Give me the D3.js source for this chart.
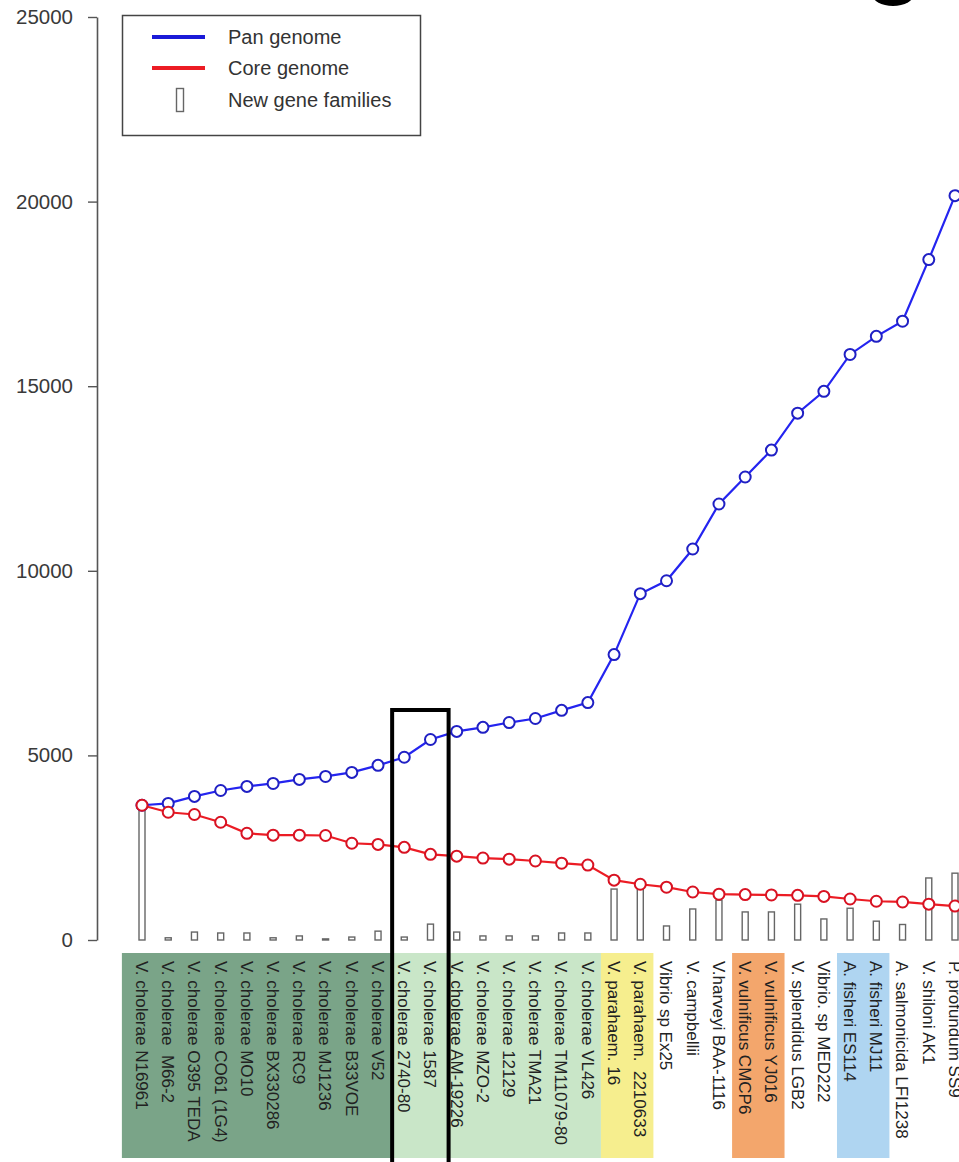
<!DOCTYPE html>
<html>
<head>
<meta charset="utf-8">
<script src="https://cdn.jsdelivr.net/npm/d3@7"></script>
<style>
  body { margin: 0; background: #fff; }
  svg { display: block; }
  text { font-family: "Liberation Sans", Arial, Helvetica, sans-serif; }
</style>
</head>
<body>
<svg id="chart" width="959" height="1162"></svg>
<script>
// Genomes in the order they are added to the pan/core genome
const categories = [
  "V. cholerae N16961", "V. cholerae  M66-2", "V. cholerae O395 TEDA", "V. cholerae CO61 (1G4)",
  "V. cholerae MO10", "V. cholerae BX330286", "V. cholerae RC9", "V. cholerae MJ1236",
  "V. cholerae B33VOE", "V. cholerae V52", "V. cholerae 2740-80", "V. cholerae 1587",
  "V. cholerae AM-19226", "V. cholerae MZO-2", "V. cholerae 12129", "V. cholerae TMA21",
  "V. cholerae TM11079-80", "V. cholerae VL426", "V. parahaem. 16", "V. parahaem.  2210633",
  "Vibrio sp Ex25", "V. campbellii", "V.harveyi BAA-1116", "V. vulnificus CMCP6",
  "V. vulnificus YJ016", "V. splendidus LGB2", "Vibrio. sp MED222", "A. fisheri ES114",
  "A. fisheri MJ11", "A. salmonicida LFI1238", "V. shiloni AK1", "P. profundum SS9"
];

// Cumulative pan genome size (gene families)
const panGenome = [
  3650, 3700, 3890, 4050, 4160, 4240, 4350, 4430, 4540, 4730, 4950, 5430,
  5650, 5760, 5890, 6000, 6220, 6430, 7730, 9380, 9730, 10590, 11810, 12540,
  13270, 14270, 14860, 15860, 16350, 16760, 18430, 20160
];

// Core genome size (gene families shared by all genomes so far)
const coreGenome = [
  3650, 3460, 3400, 3190, 2890, 2840, 2840, 2830, 2620, 2590, 2510, 2320,
  2270, 2220, 2190, 2140, 2080, 2030, 1620, 1510, 1430, 1300, 1240, 1230,
  1220, 1210, 1180, 1110, 1050, 1030, 970, 920
];

// New gene families contributed by each added genome
const newFamilies = [
  3650, 60, 215, 190, 190, 60, 110, 30, 80, 240, 80, 430,
  215, 110, 110, 110, 190, 190, 1380, 1450, 380, 840, 1080, 760,
  760, 970, 570, 860, 510, 420, 1680, 1810
];

const yTicks = [0, 5000, 10000, 15000, 20000, 25000];

// Species groups shaded behind the genome names (first and last member)
const cholerae1 = ["V. cholerae N16961", "V. cholerae V52"];
const cholerae2 = ["V. cholerae 2740-80", "V. cholerae VL426"];
const parahaem = ["V. parahaem. 16", "V. parahaem.  2210633"];
const vulnificus = ["V. vulnificus CMCP6", "V. vulnificus YJ016"];
const fisheri = ["A. fisheri ES114", "A. fisheri MJ11"];
const highlighted = ["V. cholerae 2740-80", "V. cholerae 1587"];

const legendLabels = ["Pan genome", "Core genome", "New gene families"];

// ---- drawing ----
const svg = d3.select("#chart");
const x = d3.scalePoint().domain(categories).range([142, 955]);
const y = d3.scaleLinear().domain([0, 25000]).range([940, 17]);
const step = x.step();

const bandTop = 953, bandBottom = 1158;
const groupSpans = [
  { span: cholerae1, fill: "#7aa488", padLeft: 7 },
  { span: cholerae2, fill: "#c9e6c8", padLeft: 0 },
  { span: parahaem, fill: "#f6ee8e", padLeft: 0 },
  { span: vulnificus, fill: "#f3a66c", padLeft: 0 },
  { span: fisheri, fill: "#afd5f1", padLeft: 0 }
];

svg.append("g").selectAll("rect").data(groupSpans).join("rect")
  .attr("x", d => x(d.span[0]) - step / 2 - d.padLeft)
  .attr("y", bandTop)
  .attr("width", d => x(d.span[1]) - x(d.span[0]) + step + d.padLeft)
  .attr("height", bandBottom - bandTop)
  .attr("fill", d => d.fill);

// genome names, reading downwards
svg.append("g").selectAll("text").data(categories).join("text")
  .attr("transform", d => `translate(${x(d)},961) rotate(90)`)
  .attr("dy", "0.36em")
  .attr("font-size", 17)
  .attr("fill", "#222")
  .attr("xml:space", "preserve")
  .text(d => d);

// y axis
const yAxis = svg.append("g")
  .attr("transform", "translate(97,0)")
  .call(d3.axisLeft(y).tickValues(yTicks).tickFormat(d3.format("d"))
    .tickSize(9).tickPadding(15).tickSizeOuter(0));
yAxis.select(".domain").attr("stroke", "#555").attr("stroke-width", 1.6);
yAxis.selectAll(".tick line").attr("stroke", "#555").attr("stroke-width", 1.4);
yAxis.selectAll(".tick text").attr("font-size", 20.5).attr("fill", "#3a3a3a")
  .attr("font-family", "\"Liberation Sans\", Arial, sans-serif");

// new gene family bars
svg.append("g").selectAll("rect").data(newFamilies).join("rect")
  .attr("x", (d, i) => x(categories[i]) - 3)
  .attr("y", d => y(d))
  .attr("width", 6)
  .attr("height", d => y(0) - y(d))
  .attr("fill", "#fff")
  .attr("stroke", "#666")
  .attr("stroke-width", 1.4);

function drawSeries(values, lineColor, pointColor) {
  const line = d3.line().x((d, i) => x(categories[i])).y(d => y(d));
  svg.append("path").datum(values)
    .attr("d", line)
    .attr("fill", "none")
    .attr("stroke", lineColor)
    .attr("stroke-width", 2.2);
  svg.append("g").selectAll("circle").data(values).join("circle")
    .attr("cx", (d, i) => x(categories[i]))
    .attr("cy", d => y(d))
    .attr("r", 5.5)
    .attr("fill", "#fff")
    .attr("stroke", pointColor)
    .attr("stroke-width", 2);
}
drawSeries(panGenome, "#2424f0", "#2020c4");
drawSeries(coreGenome, "#ec1c24", "#d81222");

// highlight box around two genomes
const hlLeft = x(highlighted[0]) - step / 2 + 1;
const hlRight = x(highlighted[1]) + step / 2 + 5;
svg.append("rect")
  .attr("x", hlLeft).attr("y", 710)
  .attr("width", hlRight - hlLeft).attr("height", 470)
  .attr("fill", "none").attr("stroke", "#000").attr("stroke-width", 4);

// legend
const legend = svg.append("g");
legend.append("rect")
  .attr("x", 122.5).attr("y", 15.5).attr("width", 298).attr("height", 120)
  .attr("fill", "#fff").attr("stroke", "#444").attr("stroke-width", 1.5);
legend.append("line").attr("x1", 152).attr("x2", 205).attr("y1", 37).attr("y2", 37)
  .attr("stroke", "#1a1ad8").attr("stroke-width", 4);
legend.append("line").attr("x1", 152).attr("x2", 205).attr("y1", 68).attr("y2", 68)
  .attr("stroke", "#ec1c24").attr("stroke-width", 4);
legend.append("rect").attr("x", 176.5).attr("y", 88.5).attr("width", 7).attr("height", 23)
  .attr("fill", "#fff").attr("stroke", "#666").attr("stroke-width", 1.4);
legend.selectAll("text.lab").data(legendLabels).join("text")
  .attr("class", "lab")
  .attr("x", 228)
  .attr("y", (d, i) => [44, 75, 107][i])
  .attr("font-size", 20)
  .attr("fill", "#333")
  .text(d => d);

// edge of the panel letter above the plot
svg.append("ellipse")
  .attr("cx", 893).attr("cy", -6).attr("rx", 21).attr("ry", 12)
  .attr("fill", "#000");
</script>
</body>
</html>
